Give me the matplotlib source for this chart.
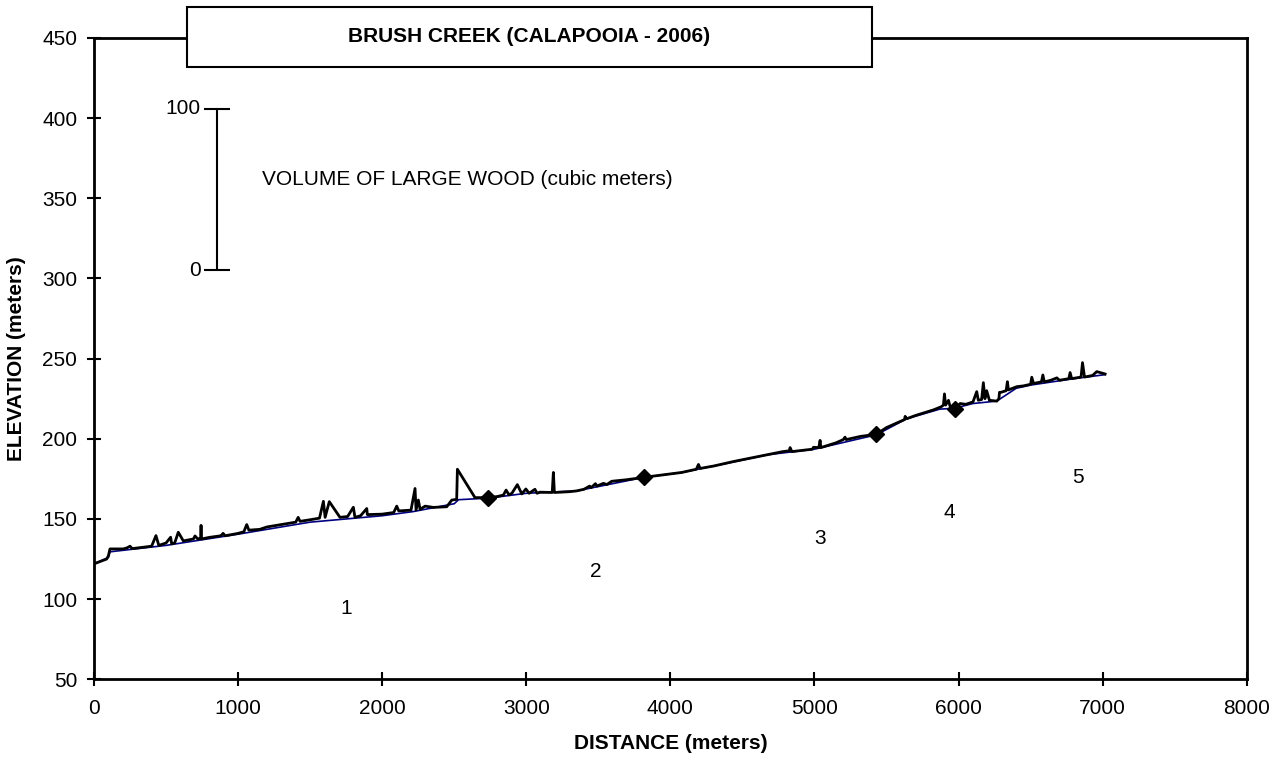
#Long profile of Brush Creek with large wood volume drawn on top of the bed
import matplotlib
matplotlib.use("Agg")
import matplotlib.pyplot as plt
from matplotlib.patches import Rectangle

plt.rcParams["font.family"] = ["Liberation Sans", "DejaVu Sans"]

#Bed elevation profile (blue line)
bed_dist = [0, 100, 111, 500, 1000, 1500, 2000, 2216, 2500, 2530, 2740, 3000, 3350,
            3820, 4080, 4437, 4670, 5000, 5430, 5640, 5870, 5970, 6100, 6265, 6400,
            6500, 6800, 7017]
bed_elev = [122, 126, 129.5, 133.5, 140.5, 148, 152, 154.6, 159.5, 162, 163, 166, 167.5,
            176, 179, 185.5, 190, 193.5, 202.5, 212.5, 218.5, 219, 222, 223.5, 231.5,
            233.5, 237.5, 240]

#Bed elevation plus large wood volume (black line)
wood_dist = [0, 88, 100, 111, 203, 230, 250, 265, 400, 430, 450, 500, 532, 539, 560,
             585, 620, 690, 701, 720, 740, 743, 746, 800, 880, 896, 910, 1000, 1040,
             1060, 1075, 1150, 1200, 1300, 1400, 1417, 1430, 1500, 1565, 1592, 1604,
             1633, 1707, 1760, 1800, 1811, 1850, 1893, 1897, 2000, 2080, 2101, 2115,
             2200, 2228, 2235, 2251, 2263, 2298, 2355, 2448, 2483, 2517, 2522, 2644,
             2737, 2800, 2841, 2860, 2880, 2900, 2938, 2969, 2997, 3020, 3060, 3075,
             3095, 3180, 3188, 3195, 3300, 3350, 3400, 3440, 3450, 3480, 3490, 3535,
             3560, 3593, 3700, 3820, 3950, 4079, 4180, 4195, 4206, 4300, 4437, 4560,
             4669, 4780, 4825, 4831, 4843, 4985, 4993, 5030, 5039, 5044, 5150, 5200,
             5212, 5220, 5320, 5428, 5500, 5600, 5625, 5629, 5640, 5700, 5825, 5880,
             5895, 5902, 5910, 5930, 5940, 5976, 6011, 6050, 6100, 6126, 6137, 6160,
             6172, 6183, 6195, 6214, 6265, 6280, 6284, 6295, 6330, 6339, 6346, 6404,
             6450, 6500, 6508, 6520, 6575, 6585, 6595, 6640, 6682, 6700, 6765, 6774,
             6785, 6850, 6860, 6874, 6930, 6959, 7017]
wood_elev = [122, 125, 127, 131.3, 131.3, 132, 133, 131.5, 133, 139.6, 133.5, 135,
             138.6, 134.5, 135, 141.7, 136.3, 137.5, 139.4, 137.5, 138, 146, 137.5,
             138.5, 139.5, 141, 139.5, 141, 142, 146.5, 143, 143.5, 145, 146.5, 148,
             151, 148.5, 149.5, 150.5, 161, 151, 160.8, 151, 151.5, 157.3, 151, 152,
             156.5, 152.7, 153, 154, 158, 155, 155.5, 169, 155.6, 161.8, 156, 158,
             157.2, 157.6, 161.8, 162.2, 181, 163.3, 163.3, 164, 164.9, 168, 165, 166,
             171.4, 165.6, 168.7, 166, 168.5, 166, 166.7, 166.5, 179, 166.5, 167,
             167.5, 168.5, 170.5, 169.5, 172, 170.5, 172.2, 171.5, 173.5, 174.5, 176,
             177.5, 179, 181, 184, 181.5, 183, 185.8, 188, 190, 192, 192.5, 194.5, 192,
             193.5, 194.7, 194.5, 199, 194.5, 197.5, 199.5, 201, 199.5, 201.5, 202.8,
             207, 211, 212, 214, 212.5, 214.5, 218, 220, 221, 228, 221, 224, 220.5,
             218.5, 222, 221.5, 223, 229.4, 224, 224.5, 235, 225, 230, 224, 223.5, 225,
             229, 229, 230, 235.6, 230.5, 232.5, 233, 234, 238.4, 234.5, 235.5, 239.8,
             235.5, 236.5, 238, 236.5, 237.5, 241.3, 237.5, 238.5, 247.5, 238.5, 239.5,
             241.9, 240.4]

#Reach breaks (diamonds)
break_dist = [2737, 3820, 5428, 5976]
break_elev = [163.3, 176, 202.8, 218.5]

#Reach numbers
reach_names = ["1", "2", "3", "4", "5"]
reach_x = [1750, 3484, 5038, 5933, 6829]
reach_y = [94, 117.5, 137.5, 153.75, 176]

#Scale bar for wood volume
scale_x = 855
scale_low = 305
scale_high = 406

fig = plt.figure(figsize=(12.84, 7.64), dpi=100)
ax = fig.add_axes([0.0732, 0.1109, 0.8978, 0.8394])

ax.plot(bed_dist, bed_elev, color="navy", linewidth=1.2, zorder=2)
ax.plot(wood_dist, wood_elev, color="black", linewidth=2, zorder=3)
ax.plot(break_dist, break_elev, linestyle="none", marker="D", markersize=8,
        color="black", zorder=4)

for name, x, y in zip(reach_names, reach_x, reach_y):
    ax.text(x, y, name, fontsize=15, ha="center", va="center")

#Scale bar
ax.vlines(scale_x, scale_low, scale_high, color="black", linewidth=1.5)
ax.hlines([scale_low, scale_high], scale_x - 90, scale_x + 90, color="black", linewidth=1.5)
ax.text(scale_x - 115, scale_high, "100", fontsize=15, ha="right", va="center")
ax.text(scale_x - 115, scale_low, "0", fontsize=15, ha="right", va="center")
ax.text(1166, 361.5, "VOLUME OF LARGE WOOD (cubic meters)", fontsize=15,
        ha="left", va="center")

ax.set_xlim(0, 8000)
ax.set_ylim(50, 450)
ax.set_xticks(range(0, 8001, 1000))
ax.set_yticks(range(50, 451, 50))
ax.tick_params(direction="inout", length=10, width=1.5, labelsize=15)
ax.tick_params(axis="x", pad=9)
ax.tick_params(axis="y", pad=7)
for side in ["left", "right", "top", "bottom"]:
    ax.spines[side].set_linewidth(2)

ax.set_xlabel("DISTANCE (meters)", fontsize=15, fontweight="bold", labelpad=12)
ax.set_ylabel("ELEVATION (meters)", fontsize=15, fontweight="bold", labelpad=12)

#Title box sitting over the top of the plot frame
box = Rectangle((0.1456, 0.9123), 0.5335, 0.0785, transform=fig.transFigure,
                facecolor="white", edgecolor="black", linewidth=1.5, zorder=10)
fig.patches.append(box)
fig.text(0.4124, 0.9516, "BRUSH CREEK (CALAPOOIA - 2006)", fontsize=15,
         fontweight="bold", ha="center", va="center", zorder=11)

fig.savefig("out.png", dpi=100)
